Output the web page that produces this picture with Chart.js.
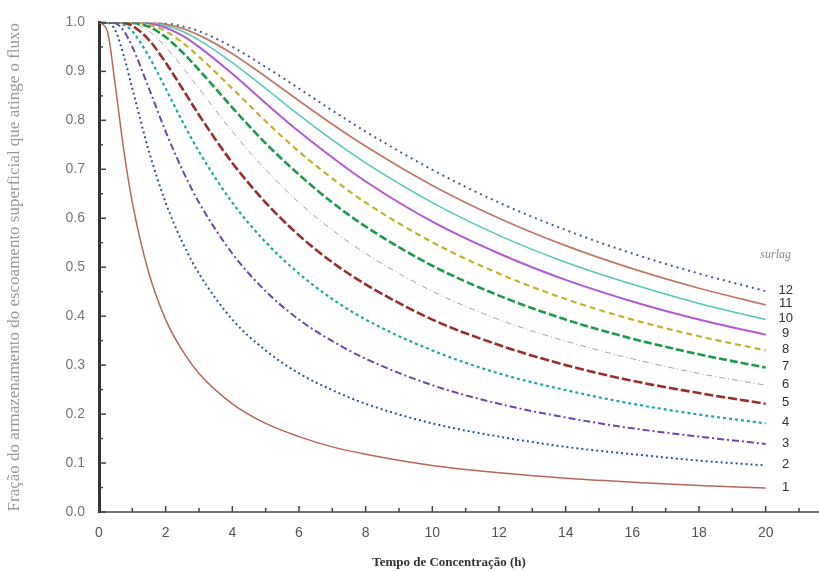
<!DOCTYPE html>
<html>
<head>
<meta charset="utf-8">
<script src="https://cdn.jsdelivr.net/npm/chart.js@4"></script>
<style>
  body { margin: 0; background: #fff; }
</style>
</head>
<body>
<canvas id="myChart" width="819" height="571"></canvas>
<script>
// tempo de concentração (h)
var tempo = [0, 0.25, 0.5, 0.75, 1, 1.5, 2, 2.5, 3, 4, 5, 6, 7, 8, 10, 12, 14, 16, 18, 20];

// fração, uma lista por valor de surlag
var s1  = [1, 0.982, 0.865, 0.736, 0.632, 0.487, 0.393, 0.330, 0.283, 0.221, 0.181, 0.154, 0.133, 0.118, 0.095, 0.080, 0.069, 0.061, 0.054, 0.049];
var s2  = [1, 1.000, 0.982, 0.930, 0.865, 0.736, 0.632, 0.551, 0.487, 0.393, 0.330, 0.283, 0.249, 0.221, 0.181, 0.154, 0.133, 0.118, 0.105, 0.095];
var s3  = [1, 1.000, 0.998, 0.982, 0.950, 0.865, 0.777, 0.699, 0.632, 0.528, 0.451, 0.393, 0.349, 0.313, 0.259, 0.221, 0.193, 0.171, 0.154, 0.139];
var s4  = [1, 1.000, 1.000, 0.995, 0.982, 0.930, 0.865, 0.798, 0.736, 0.632, 0.551, 0.487, 0.435, 0.393, 0.330, 0.283, 0.249, 0.221, 0.199, 0.181];
var s5  = [1, 1.000, 1.000, 0.999, 0.993, 0.964, 0.918, 0.865, 0.811, 0.713, 0.632, 0.565, 0.510, 0.465, 0.393, 0.341, 0.300, 0.268, 0.243, 0.221];
var s6  = [1, 1.000, 1.000, 1.000, 0.998, 0.982, 0.950, 0.909, 0.865, 0.777, 0.699, 0.632, 0.576, 0.528, 0.451, 0.393, 0.349, 0.313, 0.283, 0.259];
var s7  = [1, 1.000, 1.000, 1.000, 0.999, 0.991, 0.970, 0.939, 0.903, 0.826, 0.753, 0.689, 0.632, 0.583, 0.503, 0.442, 0.393, 0.354, 0.322, 0.295];
var s8  = [1, 1.000, 1.000, 1.000, 1.000, 0.995, 0.982, 0.959, 0.930, 0.865, 0.798, 0.736, 0.681, 0.632, 0.551, 0.487, 0.435, 0.393, 0.359, 0.330];
var s9  = [1, 1.000, 1.000, 1.000, 1.000, 0.998, 0.989, 0.973, 0.950, 0.895, 0.835, 0.777, 0.724, 0.675, 0.593, 0.528, 0.474, 0.430, 0.393, 0.362];
var s10 = [1, 1.000, 1.000, 1.000, 1.000, 0.999, 0.993, 0.982, 0.964, 0.918, 0.865, 0.811, 0.760, 0.713, 0.632, 0.565, 0.510, 0.465, 0.426, 0.393];
var s11 = [1, 1.000, 1.000, 1.000, 1.000, 1.000, 0.996, 0.988, 0.974, 0.936, 0.889, 0.840, 0.792, 0.747, 0.667, 0.600, 0.544, 0.497, 0.457, 0.423];
var s12 = [1, 1.000, 1.000, 1.000, 1.000, 1.000, 0.998, 0.992, 0.982, 0.950, 0.909, 0.865, 0.820, 0.777, 0.699, 0.632, 0.576, 0.528, 0.487, 0.451];

var rotulos = ['1', '2', '3', '4', '5', '6', '7', '8', '9', '10', '11', '12'];
var yTicks = [0, 0.1, 0.2, 0.3, 0.4, 0.5, 0.6, 0.7, 0.8, 0.9, 1.0];
var xTicks = [0, 2, 4, 6, 8, 10, 12, 14, 16, 18, 20];

var series = [s1, s2, s3, s4, s5, s6, s7, s8, s9, s10, s11, s12];
var cores = ['#b8675a', '#2d5894', '#6a48ae', '#1ea6aa', '#9c2e29', '#a3a3a3',
             '#1e9a4d', '#c4b22a', '#b15ad3', '#55c8b9', '#c27a68', '#4a5d91'];
var tracos = [[], [2, 3], [7, 3, 2, 3], [3, 3], [9, 3], [6, 3, 1, 3],
              [8, 3], [6, 4], [], [], [], [2, 4]];
var larguras = [1.5, 2, 2, 2.2, 2.6, 1, 2.6, 2.2, 2, 1.5, 1.8, 2];

var datasets = series.map(function (s, i) {
    return {
        label: rotulos[i],
        data: tempo.map(function (t, j) { return {x: t, y: s[j]}; }),
        borderColor: cores[i],
        borderDash: tracos[i],
        borderWidth: larguras[i],
        pointRadius: 0,
        fill: false,
        cubicInterpolationMode: 'monotone'
    };
});

// marcas internas dos eixos, números das curvas e título do eixo x
var extras = {
    id: 'extras',
    afterDraw: function (chart) {
        var ctx = chart.ctx, area = chart.chartArea;
        var x = chart.scales.x, y = chart.scales.y;
        ctx.save();
        ctx.strokeStyle = '#444';
        ctx.lineWidth = 1.5;
        for (var v = 0; v <= 21; v++) {
            var px = x.getPixelForValue(v);
            var len = v % 2 === 0 ? 6 : 4;
            ctx.beginPath(); ctx.moveTo(px, area.bottom); ctx.lineTo(px, area.bottom - len); ctx.stroke();
        }
        for (var i = 0; i <= 20; i++) {
            var py = y.getPixelForValue(i * 0.05);
            var l2 = i % 2 === 0 ? 7 : 4;
            ctx.beginPath(); ctx.moveTo(area.left, py); ctx.lineTo(area.left + l2, py); ctx.stroke();
        }

        // números das curvas, na altura do fim de cada curva
        var xEnd = x.getPixelForValue(20);
        ctx.fillStyle = '#333';
        ctx.font = '13px "Liberation Sans Narrow", "Liberation Sans", sans-serif';
        ctx.textAlign = 'center';
        ctx.textBaseline = 'middle';
        chart.data.datasets.forEach(function (ds) {
            var last = ds.data[ds.data.length - 1].y;
            ctx.fillText(ds.label, xEnd + 20, y.getPixelForValue(last) - 1);
        });
        ctx.fillStyle = '#888';
        ctx.font = 'italic 12px "Liberation Serif", serif';
        ctx.fillText('surlag', xEnd + 10, y.getPixelForValue(s12[s12.length - 1]) - 36);

        ctx.fillStyle = '#333';
        ctx.font = 'bold 13px "Liberation Serif", serif';
        ctx.fillText('Tempo de Concentração (h)', 449, 563);
        ctx.restore();
    }
};

var ctx = document.getElementById("myChart").getContext('2d');
var myChart = new Chart(ctx, {
    type: 'line',
    data: { datasets: datasets },
    options: {
        responsive: false,
        animation: false,
        layout: { padding: { top: 18, left: 0, right: 0, bottom: 0 } },
        plugins: {
            legend: { display: false },
            tooltip: { enabled: false }
        },
        scales: {
            x: {
                type: 'linear',
                min: 0,
                max: 21.6,
                afterFit: function (scale) { scale.height = 59; },
                afterBuildTicks: function (scale) {
                    scale.ticks = xTicks.map(function (v) { return {value: v}; });
                },
                ticks: {
                    autoSkip: false,
                    maxRotation: 0,
                    padding: 13,
                    color: '#555',
                    font: { family: '"Liberation Sans Narrow", "Liberation Sans", sans-serif', size: 14 },
                    callback: function (v) { return String(v); }
                },
                grid: { display: true, drawOnChartArea: false, drawTicks: false },
                border: { display: true, color: '#777', width: 2 }
            },
            y: {
                type: 'linear',
                min: 0,
                max: 1,
                afterFit: function (scale) { scale.width = 99; },
                afterBuildTicks: function (scale) {
                    scale.ticks = yTicks.map(function (v) { return {value: v}; });
                },
                ticks: {
                    padding: 14,
                    color: '#777',
                    font: { family: '"Liberation Sans", Arial, sans-serif', size: 14 },
                    callback: function (v) { return Number(v).toFixed(1); }
                },
                grid: { display: true, drawOnChartArea: false, drawTicks: false },
                border: { display: true, color: '#333', width: 3 },
                title: {
                    display: true,
                    text: 'Fração do armazenamento do escoamento superficial que atinge o fluxo',
                    color: '#999',
                    font: { family: '"Liberation Serif", serif', size: 17 },
                    padding: { top: 4, bottom: 0 }
                }
            }
        }
    },
    plugins: [extras]
});
</script>
</body>
</html>
